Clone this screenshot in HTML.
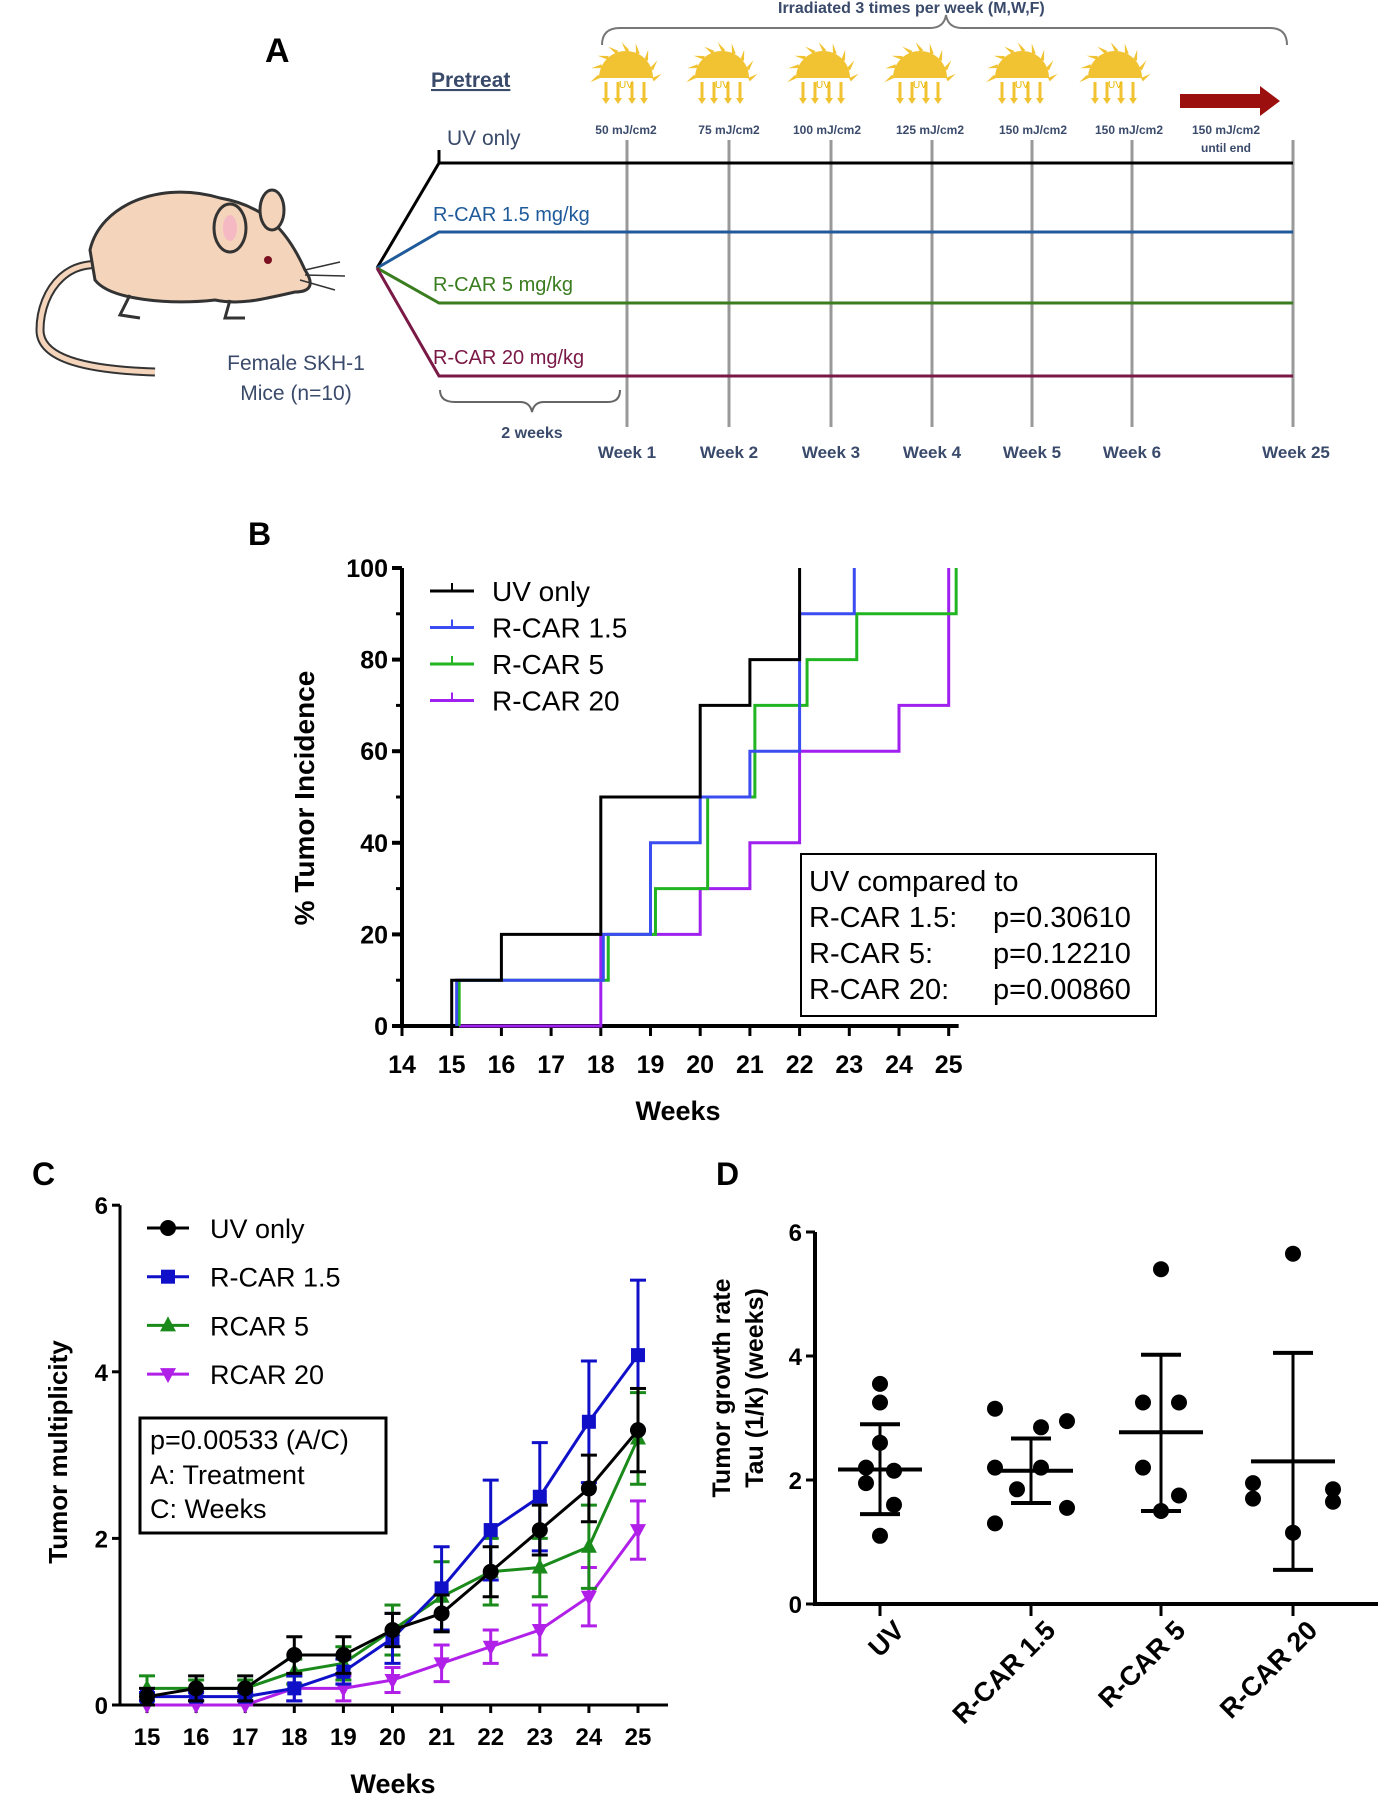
<!DOCTYPE html>
<html><head><meta charset="utf-8"><style>
html,body{margin:0;padding:0;background:#fff;}
svg{display:block;font-family:"Liberation Sans",sans-serif;}
</style></head><body>
<svg id="fig" width="1378" height="1800" viewBox="0 0 1378 1800">
<!-- PANEL A -->
<g>
<text x="265" y="62" font-size="34" font-weight="bold">A</text>
<text x="431" y="87" font-size="21" font-weight="bold" fill="#3a4a6b" text-decoration="underline">Pretreat</text>
<text x="778" y="13" font-size="16" font-weight="bold" fill="#3a4a6b">Irradiated 3 times per week (M,W,F)</text>
<path d="M602,45 Q602,28 620,28 L930,28 Q944,28 946,15 Q948,28 962,28 L1270,28 Q1287,28 1287,45" fill="none" stroke="#777" stroke-width="2"/>
<g id="suns"></g>
<path d="M1180,94 L1260,94 L1260,86 L1280,101 L1260,116 L1260,108 L1180,108 Z" fill="#9b0f0f"/>
<g font-size="12" font-weight="bold" fill="#3a4a6b" text-anchor="middle">
<text x="626" y="134">50 mJ/cm2</text><text x="729" y="134">75 mJ/cm2</text><text x="827" y="134">100 mJ/cm2</text><text x="930" y="134">125 mJ/cm2</text><text x="1033" y="134">150 mJ/cm2</text><text x="1129" y="134">150 mJ/cm2</text><text x="1226" y="134">150 mJ/cm2</text><text x="1226" y="152">until end</text>
</g>
<g stroke="#999" stroke-width="3">
<line x1="627" y1="140" x2="627" y2="427"/><line x1="729" y1="140" x2="729" y2="427"/><line x1="831" y1="140" x2="831" y2="427"/><line x1="932" y1="140" x2="932" y2="427"/><line x1="1032" y1="140" x2="1032" y2="427"/><line x1="1132" y1="140" x2="1132" y2="427"/><line x1="1293" y1="140" x2="1293" y2="427"/>
</g>
<g font-size="17" font-weight="bold" fill="#3a4a6b" text-anchor="middle">
<text x="627" y="458">Week 1</text><text x="729" y="458">Week 2</text><text x="831" y="458">Week 3</text><text x="932" y="458">Week 4</text><text x="1032" y="458">Week 5</text><text x="1132" y="458">Week 6</text><text x="1296" y="458">Week 25</text>
</g>
<g fill="none" stroke-width="3">
<path d="M377,268 L439,163 L1293,163" stroke="#000"/>
<path d="M377,268 L439,232 L1293,232" stroke="#1f5a9a"/>
<path d="M377,268 L439,303 L1293,303" stroke="#3a7d1e"/>
<path d="M377,268 L439,376 L1293,376" stroke="#7a1846"/>
<line x1="439" y1="150" x2="439" y2="163" stroke="#000"/>
</g>
<text x="447" y="145" font-size="21" fill="#3a4a6b">UV only</text>
<text x="433" y="221" font-size="20" fill="#1f5a9a">R-CAR 1.5 mg/kg</text>
<text x="433" y="291" font-size="20" fill="#3a7d1e">R-CAR 5 mg/kg</text>
<text x="433" y="364" font-size="20" fill="#7a1846">R-CAR 20 mg/kg</text>
<path d="M440,390 Q440,402 455,402 L520,402 Q530,402 532,412 Q534,402 544,402 L608,402 Q620,402 620,390" fill="none" stroke="#666" stroke-width="2"/>
<text x="532" y="438" font-size="16" font-weight="bold" fill="#3a4a6b" text-anchor="middle">2 weeks</text>
<text x="296" y="370" font-size="21" fill="#3a4a6b" text-anchor="middle">Female SKH-1</text>
<text x="296" y="400" font-size="21" fill="#3a4a6b" text-anchor="middle">Mice (n=10)</text>
<g>
<path d="M120,270 C70,250 40,290 40,330 C40,360 90,370 155,372" fill="none" stroke="#333" stroke-width="9"/>
<path d="M120,270 C70,250 40,290 40,330 C40,360 90,370 155,372" fill="none" stroke="#f4d5bc" stroke-width="5"/>
<path d="M90,250 C100,205 160,180 220,198 C260,205 285,225 305,270 C315,285 310,292 295,292 C260,300 240,305 215,300 C170,305 110,300 95,280 Z" fill="#f4d5bc" stroke="#333" stroke-width="3"/>
<ellipse cx="272" cy="210" rx="12" ry="20" fill="#f4d5bc" stroke="#333" stroke-width="3"/>
<ellipse cx="230" cy="228" rx="16" ry="24" fill="#f4d5bc" stroke="#333" stroke-width="3"/>
<ellipse cx="230" cy="228" rx="7" ry="13" fill="#f5b9c4"/>
<circle cx="268" cy="260" r="4" fill="#7a1020"/>
<path d="M305,270 L340,262 M305,275 L345,276 M300,280 L335,290" stroke="#333" stroke-width="1.5"/>
<path d="M230,300 L225,318 L245,318 M130,295 L120,315 L140,318" fill="none" stroke="#333" stroke-width="3"/>
</g>
</g>

<!-- PANEL B -->
<g id="panelB">
<text x="248" y="545" font-size="32" font-weight="bold">B</text>
<text transform="translate(314,798) rotate(-90)" font-size="28" font-weight="bold" text-anchor="middle">% Tumor Incidence</text>
<text x="678" y="1120" font-size="27" font-weight="bold" text-anchor="middle">Weeks</text>
<rect x="801" y="854" width="355" height="162" fill="#fff" stroke="#000" stroke-width="2"/>
<g font-size="29">
<text x="809" y="891">UV compared to</text>
<text x="809" y="927">R-CAR 1.5:</text><text x="993" y="927">p=0.30610</text>
<text x="809" y="963">R-CAR 5:</text><text x="993" y="963">p=0.12210</text>
<text x="809" y="999">R-CAR 20:</text><text x="993" y="999">p=0.00860</text>
</g>
</g>

<!-- PANEL C -->
<g id="panelC">
<text x="32" y="1185" font-size="32" font-weight="bold">C</text>
<text transform="translate(67,1452) rotate(-90)" font-size="26" font-weight="bold" text-anchor="middle">Tumor multiplicity</text>
<text x="393" y="1793" font-size="27" font-weight="bold" text-anchor="middle">Weeks</text>
<rect x="140" y="1418" width="246" height="115" fill="#fff" stroke="#000" stroke-width="3"/>
<g font-size="27">
<text x="150" y="1449">p=0.00533 (A/C)</text>
<text x="150" y="1484">A: Treatment</text>
<text x="150" y="1518">C: Weeks</text>
</g>
</g>

<!-- PANEL D -->
<g id="panelD">
<text x="716" y="1185" font-size="32" font-weight="bold">D</text>
<text transform="translate(730,1388) rotate(-90)" font-size="25" font-weight="bold" text-anchor="middle">Tumor growth rate</text>
<text transform="translate(763,1388) rotate(-90)" font-size="25" font-weight="bold" text-anchor="middle">Tau (1/k) (weeks)</text>
</g>
</svg>
<script>
const NS='http://www.w3.org/2000/svg';
function mk(tag,attrs,parent){const e=document.createElementNS(NS,tag);for(const k in attrs)e.setAttribute(k,attrs[k]);parent.appendChild(e);return e;}

// suns
const sunX=[626,722,823,920,1022,1115];
const suns=document.getElementById('suns');
sunX.forEach(function(cx){
  const g=mk('g',{},suns);
  
  
  for(let a=0;a<=180;a+=22.5){const r=Math.PI*a/180;mk('path',{d:'M'+(cx+Math.cos(r)*26)+','+(78-Math.sin(r)*26)+' L'+(cx+Math.cos(r+0.12)*36)+','+(78-Math.sin(r+0.12)*36)+' L'+(cx+Math.cos(r-0.12)*28)+','+(78-Math.sin(r-0.12)*28)+'Z',fill:'#f1c232'},g);}
  mk('path',{d:'M'+(cx-27)+',78 A27,27 0 0 1 '+(cx+27)+',78 Z',fill:'#f1c232'},g);
  [-20,-8,6,18].forEach(function(dx){mk('line',{x1:cx+dx,y1:82,x2:cx+dx,y2:100,stroke:'#f1c232','stroke-width':3},g);mk('path',{d:'M'+(cx+dx-4)+',98 L'+(cx+dx+4)+',98 L'+(cx+dx)+',104Z',fill:'#f1c232'},g);});
  const t=mk('text',{x:cx,y:88,'font-size':10,fill:'#e8b800','text-anchor':'middle'},g);t.textContent='UV';
});

// ===== Panel B data =====
const bTicksX=[14,15,16,17,18,19,20,21,22,23,24,25];
const bTicksY=[0,20,40,60,80,100];
const bSeriesNames=['UV only','R-CAR 1.5','R-CAR 5','R-CAR 20'];
const bColors=['#000','#3b4cf0','#22b522','#a020f0'];
const bUVx=[14,15,16,18,20,21,22,22];
const bUVy=[0,10,20,50,70,80,100,100];
const bR15x=[15.1,15.1,18.05,19,20,21,22,23.1];
const bR15y=[0,10,20,40,50,60,90,100];
const bR5x=[15.15,15.15,18.15,19.1,20.15,21.1,22.15,23.15,25.15];
const bR5y=[0,10,20,30,50,70,80,90,100];
const bR20x=[15.15,18,20,21,22,24,25];
const bR20y=[0,20,30,40,60,70,100];
(function(){
  const P=document.getElementById('panelB');
  const X=w=>402+(w-14)*49.7, Y=v=>1026-v*4.58;
  const ax=mk('path',{d:'M'+X(14)+','+Y(100)+' L'+X(14)+','+Y(0)+' L'+X(25.2)+','+Y(0),fill:'none',stroke:'#000','stroke-width':4},P);
  
  bTicksY.forEach(v=>{mk('line',{x1:X(14)-10,x2:X(14),y1:Y(v),y2:Y(v),stroke:'#000','stroke-width':4},P);
    const t=mk('text',{x:X(14)-14,y:Y(v)+9,'font-size':25,'font-weight':'bold','text-anchor':'end'},P);t.textContent=v;
    
    if(v<100)mk('line',{x1:X(14)-6,x2:X(14),y1:Y(v+10),y2:Y(v+10),stroke:'#000','stroke-width':3},P);});
  bTicksX.forEach(w=>{mk('line',{x1:X(w),x2:X(w),y1:Y(0),y2:Y(0)+10,stroke:'#000','stroke-width':3},P);
    const t=mk('text',{x:X(w),y:Y(0)+47,'font-size':25,'font-weight':'bold','text-anchor':'middle'},P);t.textContent=w;
    });
  const xs=[bUVx,bR15x,bR5x,bR20x], ys=[bUVy,bR15y,bR5y,bR20y];
  [3,2,1,0].forEach(i=>{
    let d='M'+X(xs[i][0])+','+Y(ys[i][0]);
    for(let k=1;k<xs[i].length;k++){d+=' L'+X(xs[i][k])+','+Y(ys[i][k-1])+' L'+X(xs[i][k])+','+Y(ys[i][k]);}
    const p=mk('path',{d:d,fill:'none',stroke:bColors[i],'stroke-width':3},P);
    
    const ly=591+i*36.5;
    const l=mk('g',{},P);
    mk('line',{x1:430,x2:474,y1:ly,y2:ly,stroke:bColors[i],'stroke-width':3},l);
    mk('line',{x1:452,x2:452,y1:ly-8,y2:ly,stroke:bColors[i],'stroke-width':2},l);
    const t=mk('text',{x:492,y:ly+10,'font-size':28},l);t.textContent=bSeriesNames[i];
  });
})();

// ===== Panel C data =====
const cWeeks=[15,16,17,18,19,20,21,22,23,24,25];
const cTicksY=[0,2,4,6];
const cNames=['UV only','R-CAR 1.5','RCAR 5','RCAR 20'];
const cColors=['#000','#1010c8','#1a8a1a','#b020e8'];
const cUV=[0.1,0.2,0.2,0.6,0.6,0.9,1.1,1.6,2.1,2.6,3.3];
const cUVerr=[0.1,0.15,0.15,0.22,0.22,0.2,0.22,0.3,0.3,0.4,0.5];
const cR15=[0.1,0.1,0.1,0.2,0.4,0.8,1.4,2.1,2.5,3.4,4.2];
const cR15err=[0.05,0.05,0.05,0.15,0.15,0.3,0.5,0.6,0.65,0.73,0.9];
const cR5=[0.2,0.2,0.2,0.4,0.5,0.9,1.3,1.6,1.65,1.9,3.2];
const cR5err=[0.15,0.1,0.1,0.15,0.2,0.3,0.42,0.4,0.35,0.5,0.55];
const cR20=[0,0,0,0.2,0.2,0.3,0.5,0.7,0.9,1.3,2.1];
const cR20err=[0.05,0.05,0.05,0.15,0.15,0.15,0.22,0.2,0.3,0.35,0.35];
(function(){
  const P=document.getElementById('panelC');
  const X=w=>147+(w-15)*49.1, Y=v=>1705-v*83.3;
  const ax=mk('path',{d:'M120,'+Y(6)+' L120,'+Y(0)+' L'+(X(25)+30)+','+Y(0),fill:'none',stroke:'#000','stroke-width':3},P);
  
  cTicksY.forEach(v=>{mk('line',{x1:112,x2:120,y1:Y(v),y2:Y(v),stroke:'#000','stroke-width':3},P);
    const t=mk('text',{x:108,y:Y(v)+9,'font-size':24,'font-weight':'bold','text-anchor':'end'},P);t.textContent=v;
    });
  cWeeks.forEach(w=>{mk('line',{x1:X(w),x2:X(w),y1:Y(0),y2:Y(0)+8,stroke:'#000','stroke-width':3},P);
    const t=mk('text',{x:X(w),y:Y(0)+40,'font-size':24,'font-weight':'bold','text-anchor':'middle'},P);t.textContent=w;
    });
  const vals=[cUV,cR15,cR5,cR20], errs=[cUVerr,cR15err,cR5err,cR20err];
  function marker(i,x,y,g){
    if(i==0)mk('circle',{cx:x,cy:y,r:8,fill:cColors[i]},g);
    else if(i==1)mk('rect',{x:x-7,y:y-7,width:14,height:14,fill:cColors[i]},g);
    else if(i==2)mk('path',{d:'M'+x+','+(y-9)+' L'+(x+8)+','+(y+6)+' L'+(x-8)+','+(y+6)+'Z',fill:cColors[i]},g);
    else mk('path',{d:'M'+x+','+(y+9)+' L'+(x+8)+','+(y-6)+' L'+(x-8)+','+(y-6)+'Z',fill:cColors[i]},g);
  }
  [3,2,1,0].forEach(i=>{
    const g=mk('g',{},P);
    let d='';
    cWeeks.forEach((w,k)=>{d+=(k?' L':'M')+X(w)+','+Y(vals[i][k]);
      const x=X(w),lo=Y(Math.max(0,vals[i][k]-errs[i][k])),hi=Y(vals[i][k]+errs[i][k]);
      mk('line',{x1:x,x2:x,y1:lo,y2:hi,stroke:cColors[i],'stroke-width':3},g);
      mk('line',{x1:x-8,x2:x+8,y1:hi,y2:hi,stroke:cColors[i],'stroke-width':3},g);
      mk('line',{x1:x-8,x2:x+8,y1:lo,y2:lo,stroke:cColors[i],'stroke-width':3},g);});
    mk('path',{d:d,fill:'none',stroke:cColors[i],'stroke-width':3},g);
    cWeeks.forEach((w,k)=>marker(i,X(w),Y(vals[i][k]),g));
  });
  [0,1,2,3].forEach(i=>{
    const ly=1228+i*48.7;
    const l=mk('g',{},P);
    mk('line',{x1:147,x2:189,y1:ly,y2:ly,stroke:cColors[i],'stroke-width':3},l);
    marker(i,168,ly,l);
    const t=mk('text',{x:210,y:ly+10,'font-size':27},l);t.textContent=cNames[i];
  });
})();

// ===== Panel D data =====
const dGroups=['UV','R-CAR 1.5','R-CAR 5','R-CAR 20'];
const dTicksY=[0,2,4,6];
const dUV=[3.55,3.25,2.6,2.2,2.15,1.95,1.6,1.1];
const dR15=[3.15,2.95,2.85,2.2,2.2,1.85,1.55,1.3];
const dR5=[5.4,3.25,3.25,2.2,1.75,1.5];
const dR20=[5.65,1.95,1.85,1.7,1.65,1.15];
const dMean=[2.17,2.15,2.77,2.3];
const dSDlo=[1.45,1.63,1.5,0.55];
const dSDhi=[2.9,2.67,4.02,4.05];
(function(){
  const P=document.getElementById('panelD');
  const cx=[880,1031,1161,1293];
  const Y=v=>1604-v*62;
  const ax=mk('path',{d:'M815,'+Y(6)+' L815,'+Y(0)+' L1378,'+Y(0),fill:'none',stroke:'#000','stroke-width':4},P);
  
  dTicksY.forEach(v=>{mk('line',{x1:806,x2:815,y1:Y(v),y2:Y(v),stroke:'#000','stroke-width':3},P);
    const t=mk('text',{x:802,y:Y(v)+9,'font-size':24,'font-weight':'bold','text-anchor':'end'},P);t.textContent=v;
    });
  const pts=[dUV,dR15,dR5,dR20];
  const offs=[[0,0,0,-14,14,-14,14,0],[-36,36,10,-36,10,-14,36,-36],[0,-18,18,-18,18,0],[0,-40,40,-40,40,0]];
  dGroups.forEach((name,i)=>{
    const x=cx[i];
    mk('line',{x1:x,x2:x,y1:Y(0),y2:Y(0)+12,stroke:'#000','stroke-width':3},P);
    const t=mk('text',{transform:'translate('+(x+26)+','+(Y(0)+28)+') rotate(-45)','font-size':27,'font-weight':'bold','text-anchor':'end'},P);t.textContent=name;
    
    const g=mk('g',{},P);
    pts[i].forEach((v,k)=>mk('circle',{cx:x+(offs[i][k]||0),cy:Y(v),r:8,fill:'#000'},g));
    mk('line',{x1:x-42,x2:x+42,y1:Y(dMean[i]),y2:Y(dMean[i]),stroke:'#000','stroke-width':4},g);
    mk('line',{x1:x,x2:x,y1:Y(dSDlo[i]),y2:Y(dSDhi[i]),stroke:'#000','stroke-width':3},g);
    mk('line',{x1:x-20,x2:x+20,y1:Y(dSDlo[i]),y2:Y(dSDlo[i]),stroke:'#000','stroke-width':4},g);
    mk('line',{x1:x-20,x2:x+20,y1:Y(dSDhi[i]),y2:Y(dSDhi[i]),stroke:'#000','stroke-width':4},g);
  });
})();
</script>
</body></html>
